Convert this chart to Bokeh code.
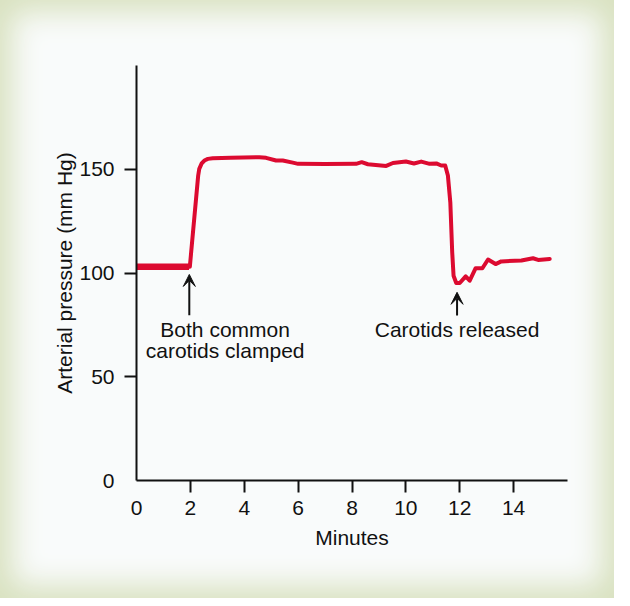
from bokeh.plotting import figure
from bokeh.models import FixedTicker, Arrow, VeeHead, Range1d
from bokeh.core.properties import value
from bokeh.embed import file_html
from bokeh.resources import INLINE

# ---- data ----
base_t = [0.0, 1.95]
base_p = [103, 103]

trace_t = [1.95, 1.98, 2.29, 2.33, 2.42, 2.52, 2.65, 2.83, 3.5, 4.56, 4.81, 5.18,
           5.43, 5.8, 6.0, 7.0, 8.15, 8.36, 8.59, 9.27, 9.52, 10.0, 10.3, 10.57,
           10.88, 11.13, 11.31, 11.46, 11.56, 11.65, 11.72, 11.77, 11.87, 12.0,
           12.22, 12.37, 12.59, 12.84, 13.05, 13.33, 13.54, 14.29, 14.72, 14.91, 15.34]
trace_p = [103, 103, 147, 150.2, 152.8, 154.2, 155, 155.3, 155.5, 155.8, 155.5, 154.2,
           154.2, 153.2, 152.6, 152.5, 152.6, 153.4, 152.4, 151.6, 153, 153.7, 152.8, 153.7,
           152.6, 152.8, 151.8, 151.8, 147, 134, 110, 98.7, 95.2, 95.2,
           98.4, 96.3, 102.3, 102.3, 106.5, 104.3, 105.6, 106, 107.1, 106.3, 106.8]

x_labels_at = [0, 2, 4, 6, 8, 10, 12, 14]
x_tick_marks = [2, 4, 6, 8, 10, 12, 14]
y_labels_at = [0, 50, 100, 150]
y_tick_marks = [50, 100, 150]

clamp_text = ["Both common", "carotids clamped"]
release_text = ["Carotids released"]

RED = "#dc0a30"
INK = "#111111"
FONT = "Liberation Sans"
FS = "21px"

p = figure(width=614, height=598,
           x_range=Range1d(0, 16), y_range=Range1d(0, 200),
           output_backend="svg", toolbar_location=None,
           min_border_left=136, min_border_right=47,
           min_border_top=65, min_border_bottom=118)

p.styles = {"background-color": "#f9fbfb",
            "box-shadow": "inset 0 0 30px 12px #d8e1bf"}
p.border_fill_color = None
p.background_fill_color = None
p.outline_line_color = None
p.grid.visible = False

for ax, labs, marks in ((p.xaxis[0], x_labels_at, x_tick_marks),
                        (p.yaxis[0], y_labels_at, y_tick_marks)):
    ax.ticker = FixedTicker(ticks=labs, minor_ticks=marks)
    ax.axis_line_color = INK
    ax.axis_line_width = 2
    ax.major_tick_line_color = None
    ax.major_tick_out = 0
    ax.major_tick_in = 0
    ax.minor_tick_line_color = INK
    ax.minor_tick_line_width = 2
    ax.minor_tick_out = 12
    ax.minor_tick_in = 0
    ax.major_label_text_font = FONT
    ax.major_label_text_font_size = FS
    ax.major_label_text_color = INK
    ax.axis_label_text_font = FONT
    ax.axis_label_text_font_size = FS
    ax.axis_label_text_font_style = "normal"
    ax.axis_label_text_color = INK

p.xaxis.axis_label = "Minutes"
p.yaxis.axis_label = "Arterial pressure (mm Hg)"
p.xaxis.major_label_standoff = 8
p.xaxis.axis_label_standoff = 8
p.yaxis.major_label_standoff = 10
p.yaxis.axis_label_standoff = 0

p.line(base_t, base_p, line_color=RED, line_width=6.5)
p.line(trace_t, trace_p, line_color=RED, line_width=4,
       line_join="round", line_cap="round")

# annotations
p.text(x=[3.29, 3.29], y=[72.8, 62.7], text=clamp_text,
       text_font=value(FONT), text_font_size=FS, text_color=INK,
       text_align="center", text_baseline="middle")
p.text(x=[11.9], y=[72.8], text=release_text,
       text_font=value(FONT), text_font_size=FS, text_color=INK,
       text_align="center", text_baseline="middle")

for xa, y0, y1 in ((1.96, 79.6, 99.3), (11.9, 79.5, 90.7)):
    p.add_layout(Arrow(x_start=xa, y_start=y0, x_end=xa, y_end=y1,
                       line_color=INK, line_width=2,
                       end=VeeHead(size=12, fill_color=INK, line_color=INK,
                                   line_width=1)))

open("out.html", "w").write(file_html(p, INLINE))
